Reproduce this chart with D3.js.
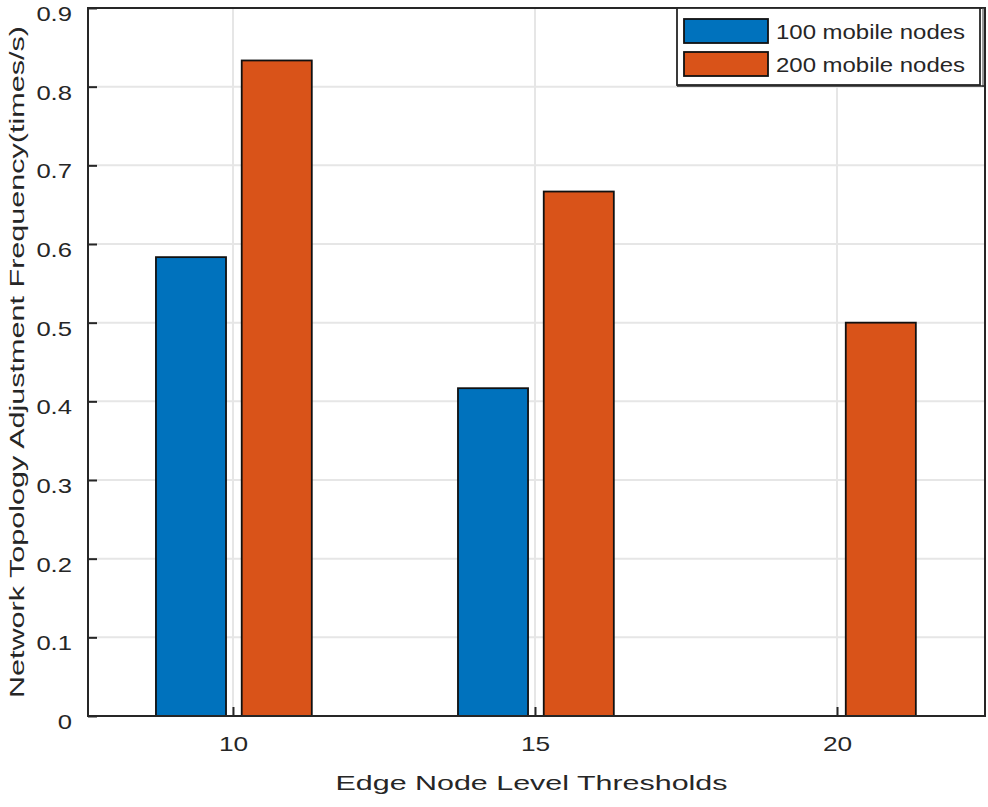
<!DOCTYPE html>
<html>
<head>
<meta charset="utf-8">
<script src="https://cdn.jsdelivr.net/npm/d3@7"></script>
<style>
  html, body { margin: 0; padding: 0; background: #ffffff; }
  svg { display: block; }
  text { font-family: "Liberation Sans", Arial, Helvetica, sans-serif; fill: #262626; }
</style>
</head>
<body>
<svg id="chart" width="988" height="807"></svg>
<script>
// ---- data ----
const categories = [10, 15, 20];
const seriesNames = ["100 mobile nodes", "200 mobile nodes"];
const series100 = [0.5833, 0.4167, 0];
const series200 = [0.8333, 0.6667, 0.5];
const seriesColors = ["#0072BD", "#D95319"];
const yTicks = [0, 0.1, 0.2, 0.3, 0.4, 0.5, 0.6, 0.7, 0.8, 0.9];
const xTicks = [10, 15, 20];
const xLabel = "Edge Node Level Thresholds";
const yLabel = "Network Topology Adjustment Frequency(times/s)";

// ---- layout ----
const svg = d3.select("#chart");
const L = 88, R = 985, T = 8, B = 716;
const x = d3.scaleLinear().domain([7.6, 22.45]).range([L, R]);
const y = d3.scaleLinear().domain([0, 0.9]).range([B, T]);

const barWidth = 1.16;            // in x units
const offsets = [-0.695, 0.725];  // group offsets in x units
const allSeries = [series100, series200];

// grid
const g = svg.append("g");
g.selectAll("line.hgrid").data(yTicks.slice(1)).join("line")
  .attr("x1", L).attr("x2", R)
  .attr("y1", d => y(d)).attr("y2", d => y(d))
  .attr("stroke", "#e6e6e6").attr("stroke-width", 2);
g.selectAll("line.vgrid").data(xTicks).join("line")
  .attr("x1", d => x(d)).attr("x2", d => x(d))
  .attr("y1", T).attr("y2", B)
  .attr("stroke", "#e6e6e6").attr("stroke-width", 2);

// bars
allSeries.forEach((vals, si) => {
  svg.append("g").selectAll("rect").data(categories.map((c, i) => ({c, v: vals[i]})).filter(d => d.v > 0))
    .join("rect")
    .attr("x", d => x(d.c + offsets[si] - barWidth / 2))
    .attr("width", d => x(d.c + offsets[si] + barWidth / 2) - x(d.c + offsets[si] - barWidth / 2))
    .attr("y", d => y(d.v))
    .attr("height", d => y(0) - y(d.v))
    .attr("fill", seriesColors[si])
    .attr("stroke", "#111")
    .attr("stroke-width", 1.8);
});

function widen(sel, k) {
  sel.each(function() {
    const w = this.getComputedTextLength();
    d3.select(this).attr("textLength", w * k).attr("lengthAdjust", "spacingAndGlyphs");
  });
}

// axes
const yAxis = d3.axisLeft(y).tickValues(yTicks).tickSizeInner(-9).tickSizeOuter(0)
  .tickPadding(16).tickFormat(d => d === 0 ? "0" : d3.format(".1f")(d));
const yg = svg.append("g").attr("transform", `translate(${L},0)`).call(yAxis);
yg.select(".domain").remove();
yg.selectAll(".tick line").attr("stroke", "#262626").attr("stroke-width", 2);
yg.selectAll(".tick text").attr("font-size", 21).attr("fill", "#262626")
  .attr("font-family", "Liberation Sans, Arial, sans-serif")
  .attr("dy", "0.6em");
widen(yg.selectAll(".tick text"), 1.22);

const xAxis = d3.axisBottom(x).tickValues(xTicks).tickSizeInner(-9).tickSizeOuter(0)
  .tickPadding(20).tickFormat(d3.format("d"));
const xg = svg.append("g").attr("transform", `translate(0,${B})`).call(xAxis);
xg.select(".domain").remove();
xg.selectAll(".tick line").attr("stroke", "#262626").attr("stroke-width", 2);
xg.selectAll(".tick text").attr("font-size", 21).attr("fill", "#262626")
  .attr("font-family", "Liberation Sans, Arial, sans-serif");
widen(xg.selectAll(".tick text"), 1.25);

// box
svg.append("rect").attr("x", L).attr("y", T).attr("width", R - L).attr("height", B - T)
  .attr("fill", "none").attr("stroke", "#262626").attr("stroke-width", 2);

// axis titles
svg.append("text").attr("x", (L + R) / 2 - 5).attr("y", 790)
  .attr("text-anchor", "middle").attr("font-size", 21)
  .attr("textLength", 392).attr("lengthAdjust", "spacingAndGlyphs")
  .text(xLabel);
svg.append("text").attr("transform", `translate(24,${362}) rotate(-90)`)
  .attr("text-anchor", "middle").attr("font-size", 21)
  .attr("textLength", 672).attr("lengthAdjust", "spacingAndGlyphs")
  .text(yLabel);

// legend
const lg = svg.append("g");
lg.append("rect").attr("x", 677).attr("y", T).attr("width", 303).attr("height", 77)
  .attr("fill", "#fff").attr("stroke", "#262626").attr("stroke-width", 1.8);
lg.append("line").attr("x1", 983).attr("x2", 983).attr("y1", T).attr("y2", 87)
  .attr("stroke", "#555").attr("stroke-width", 1.2);
lg.append("line").attr("x1", 677).attr("x2", 985).attr("y1", 86).attr("y2", 86)
  .attr("stroke", "#262626").attr("stroke-width", 1.5);
seriesNames.forEach((name, i) => {
  const cy = 31 + i * 33;
  lg.append("rect").attr("x", 684).attr("y", cy - 12).attr("width", 84).attr("height", 24)
    .attr("fill", seriesColors[i]).attr("stroke", "#111").attr("stroke-width", 1.8);
  lg.append("text").attr("x", 776).attr("y", cy + 8).attr("font-size", 20)
    .attr("textLength", 189).attr("lengthAdjust", "spacingAndGlyphs")
    .text(name);
});
</script>
</body>
</html>
